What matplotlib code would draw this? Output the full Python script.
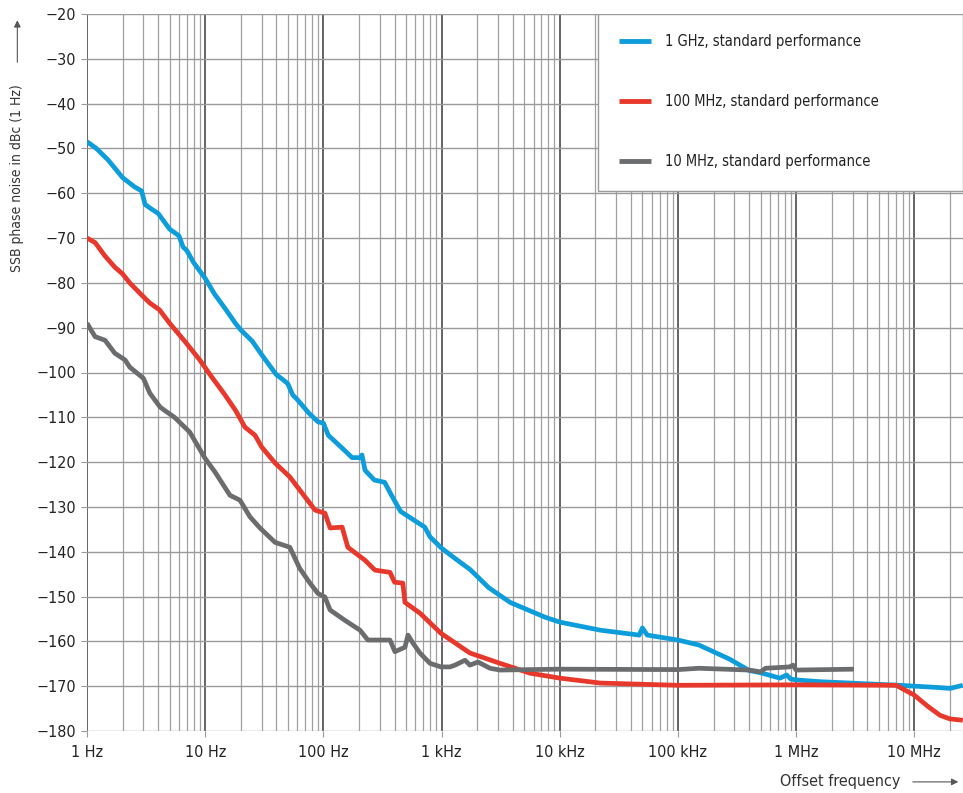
import numpy as np
import matplotlib
matplotlib.use("Agg")
from matplotlib import pyplot as plt
from matplotlib.patches import Rectangle
from matplotlib.ticker import FixedLocator, NullFormatter, LogLocator

plt.rcParams['font.family'] = ['DejaVu Sans']
plt.rcParams['font.stretch'] = 'condensed'

# SSB phase noise (offset in Hz, dBc/Hz)
f_1ghz = [1, 1.2, 1.5, 2, 2.5, 2.9, 3.1, 3.5, 4, 5, 6, 6.5, 7, 8, 10, 12, 15, 18, 20,
          25, 30, 40, 45, 50, 55, 60, 75, 90, 100, 110, 150, 175, 204, 212, 225, 270,
          330, 370, 450, 550, 720, 800, 1000, 1300, 1750, 2500, 3800, 7500, 10000,
          22000, 47000, 50000, 55000, 100000, 150000, 275000, 400000, 500000, 730000,
          830000, 900000, 1e6, 1.6e6, 7.5e6, 1.6e7, 2.0e7, 2.57e7]
pn_1ghz = [-48.5, -50, -52.5, -56.5, -58.5, -59.5, -62.5, -63.5, -64.5, -68, -69.5, -72,
           -72.8, -75.5, -79, -82.5, -86, -89, -90.5, -93, -96, -100.5, -101.5, -102.5,
           -105, -106, -109, -111, -111.3, -114, -117.3, -119, -119, -118.4, -121.8, -124,
           -124.5, -127, -131, -132.5, -134.5, -136.7, -139.2, -141.5, -144, -148, -151.3,
           -154.6, -155.7, -157.5, -158.6, -157, -158.6, -159.7, -160.8, -164, -166.5,
           -167, -168.2, -167.5, -168.4, -168.6, -169, -169.8, -170.3, -170.5, -169.8]

f_100mhz = [1, 1.17, 1.42, 1.72, 2, 2.3, 2.8, 3.4, 4.1, 5, 6.8, 9, 11, 14.7, 18, 21.7,
            26.4, 30, 39, 52, 63, 85, 103, 114, 144, 161, 225, 273, 366, 400, 470, 490,
            656, 988, 1738, 3120, 5600, 10000, 22000, 100000, 1e6, 7e6, 1e7, 1.3e7,
            1.65e7, 2e7, 2.57e7]
pn_100mhz = [-70, -71, -74, -76.5, -78, -80, -82.3, -84.5, -86, -89, -93.2, -97.2,
             -100.5, -105, -108.4, -112.2, -114, -116.6, -120.2, -123.3, -126.2, -130.7,
             -131.4, -134.7, -134.5, -139, -141.9, -144.1, -144.6, -146.8, -147, -151.3,
             -153.7, -158.2, -162.6, -164.9, -167.1, -168.2, -169.3, -169.8, -169.7,
             -169.8, -172, -174.5, -176.5, -177.3, -177.6]

f_10mhz = [1, 1.17, 1.42, 1.72, 2.1, 2.3, 3, 3.4, 4.15, 4.5, 5.5, 7.4, 10, 12.1, 16.2,
           19.7, 23.9, 29.1, 39, 52, 63, 77, 90, 103, 114, 152, 204, 238, 366, 403, 490,
           520, 573, 656, 798, 988, 1178, 1300, 1578, 1738, 2032, 2567, 3120, 10000,
           100000, 150000, 400000, 500000, 550000, 880000, 940000, 1e6, 3.08e6]
pn_10mhz = [-89, -92, -92.8, -95.7, -97.2, -98.8, -101.3, -104.6, -107.7, -108.4, -110,
            -113.3, -119.2, -122.2, -127.4, -128.5, -132.2, -134.7, -137.9, -139, -143.7,
            -147, -149.3, -150.1, -153, -155.3, -157.5, -159.7, -159.7, -162.3, -161.3,
            -158.6, -160.4, -162.6, -164.9, -165.7, -165.7, -165.3, -164.2, -165.3,
            -164.6, -166, -166.4, -166.2, -166.3, -166, -166.4, -166.8, -166, -165.7,
            -165.3, -166.4, -166.2]

labels = ["1 GHz, standard performance", "100 MHz, standard performance",
          "10 MHz, standard performance"]
colors = ["#0d9ddb", "#e8382b", "#6b6c6e"]

x_ticks = [1, 10, 100, 1e3, 1e4, 1e5, 1e6, 1e7]
x_ticklabels = ["1 Hz", "10 Hz", "100 Hz", "1 kHz", "10 kHz", "100 kHz", "1 MHz", "10 MHz"]
y_ticks = list(range(-20, -181, -10))

fig = plt.figure(figsize=(9.63, 7.93), dpi=100)
ax = fig.add_axes([87 / 963, 62 / 793, 876 / 963, 717 / 793])

series = [(f_1ghz, pn_1ghz), (f_100mhz, pn_100mhz), (f_10mhz, pn_10mhz)]
for (f, pn), lab, c in zip(series, labels, colors):
    ax.plot(f, pn, color=c, lw=3.4, label=lab, solid_capstyle='butt', zorder=3)

ax.set_xscale('log')
ax.set_xlim(1, 2.58e7)
ax.set_ylim(-180, -20)
ax.xaxis.set_major_locator(FixedLocator(x_ticks))
ax.set_xticklabels(x_ticklabels)
ax.xaxis.set_minor_locator(LogLocator(base=10, subs=np.arange(2, 10), numticks=20))
ax.xaxis.set_minor_formatter(NullFormatter())
ax.set_yticks(y_ticks)

for s in ax.spines.values():
    s.set_visible(False)

ax.grid(True, which='major', axis='x', color='#4a4a4a', lw=1.2)
ax.grid(True, which='minor', axis='x', color='#a0a0a0', lw=0.9)
ax.grid(True, which='major', axis='y', color='#9a9a9a', lw=1.0)
ax.tick_params(axis='both', which='major', length=4, color='#9a9a9a', labelsize=11.5,
               labelcolor='#222222', pad=4)
ax.tick_params(axis='x', which='minor', length=0)
ax.tick_params(axis='x', pad=6)

# white legend panel in the upper right corner
ax.add_patch(Rectangle((0.583, 0.753), 0.417, 0.247, transform=ax.transAxes,
                       facecolor='white', edgecolor='#9a9a9a', lw=1.0, zorder=2.5))
leg = ax.legend(loc='upper left', bbox_to_anchor=(0.607, 0.972), frameon=False,
                borderpad=0, borderaxespad=0, handlelength=2.2, handletextpad=0.95,
                labelspacing=3.1, fontsize=10.5)
leg.set_zorder(4)
for h in leg.legend_handles:
    h.set_linewidth(3.5)
for t in leg.get_texts():
    t.set_color('#222222')

# axis titles with arrows
fig.text(0.018, 0.776, "SSB phase noise in dBc (1 Hz)", rotation=90, ha='center',
         va='center', fontsize=10, color='#333333')
ax.annotate("", xy=(0.018, 0.978), xytext=(0.018, 0.918), xycoords='figure fraction',
            textcoords='figure fraction',
            arrowprops=dict(arrowstyle='-|>', color='#555555', lw=0.8, mutation_scale=10))
fig.text(0.8725, 0.014, "Offset frequency", ha='center', va='center', fontsize=11.5,
         color='#333333')
ax.annotate("", xy=(0.998, 0.014), xytext=(0.945, 0.014), xycoords='figure fraction',
            textcoords='figure fraction',
            arrowprops=dict(arrowstyle='-|>', color='#555555', lw=0.8, mutation_scale=10))

fig.savefig("out.png", dpi=100)
